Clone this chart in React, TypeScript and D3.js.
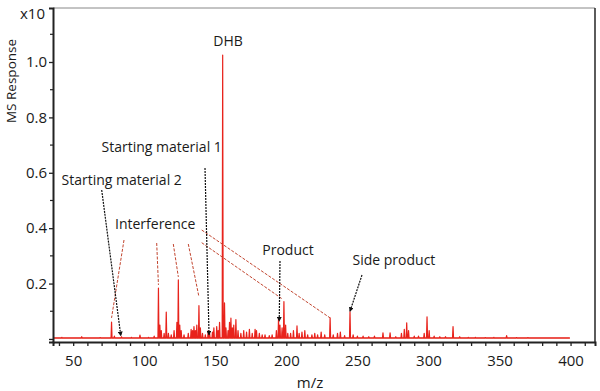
import React, { useRef, useEffect } from "react";
import * as d3 from "d3";

// Peak list (m/z, response x10)
const peakMz = [
  42, 56, 63, 69, 77, 79, 84, 91, 97, 103, 107,
  110, 111, 112, 114, 115.5, 117, 119, 121, 123, 124, 125, 126, 128,
  131, 133, 134, 135, 136, 137, 138.5, 139.5, 141, 143, 145, 146, 148, 149,
  151, 152, 153, 155.2, 156.5, 157.5, 159, 160, 161, 162, 163, 164.5, 166, 168,
  170, 172, 174, 176, 178, 179, 181, 183, 185, 188, 190, 193, 194.5, 195.5, 197,
  198.3, 199.5, 201, 203, 205, 207.5, 209, 211, 213, 215, 218, 220, 222, 224.5,
  227, 230.8, 233, 236, 238, 241, 244.8, 247, 250, 254, 258, 262, 268, 273, 277,
  281, 283, 284.7, 286, 290, 293, 297, 299, 300.5, 304, 308, 312, 317.3, 322,
  328, 333, 340, 346, 355, 362, 370, 378, 386, 394,
];
const peakValue = [
  0.006, 0.008, 0.004, 0.005, 0.061, 0.01, 0.008, 0.006, 0.014, 0.006, 0.01,
  0.184, 0.05, 0.03, 0.02, 0.097, 0.02, 0.015, 0.03, 0.06, 0.213, 0.05, 0.03, 0.015,
  0.02, 0.035, 0.03, 0.045, 0.03, 0.05, 0.12, 0.04, 0.02, 0.015, 0.03, 0.02, 0.025, 0.04,
  0.045, 0.03, 0.06, 1.025, 0.13, 0.04, 0.03, 0.06, 0.075, 0.04, 0.05, 0.07, 0.03, 0.02,
  0.03, 0.025, 0.035, 0.02, 0.035, 0.03, 0.02, 0.015, 0.015, 0.012, 0.015, 0.03, 0.075, 0.05, 0.04,
  0.135, 0.05, 0.02, 0.02, 0.03, 0.047, 0.02, 0.025, 0.03, 0.015, 0.015, 0.02, 0.015, 0.025,
  0.015, 0.076, 0.015, 0.02, 0.025, 0.012, 0.098, 0.015, 0.01, 0.01, 0.008, 0.01, 0.022, 0.022, 0.008,
  0.02, 0.035, 0.058, 0.03, 0.01, 0.01, 0.02, 0.08, 0.03, 0.01, 0.008, 0.008, 0.045, 0.008,
  0.006, 0.006, 0.005, 0.006, 0.012, 0.005, 0.005, 0.004, 0.004, 0.004,
];
const scanRange = [36, 399.5];
const baselineLevel = 0.004;

const xTickValues = d3.range(40, 411, 10);
const xLabelValues = [50, 100, 150, 200, 250, 300, 350, 400];
const yMajorTicks = [0, 0.2, 0.4, 0.6, 0.8, 1.0];
const yMinorTicks = [0.1, 0.3, 0.5, 0.7, 0.9, 1.1];

// Annotations: label text + where the pointer lands (m/z, response)
const blackLabels = ["Starting material 2", "Starting material 1", "Product", "Side product"];
const blackTargetMz = [83.5, 145.6, 195, 244.8];
const blackTargetValue = [0.012, 0.015, 0.065, 0.1];
const interferenceTargetMz = [77, 110, 124, 138.5, 230.8, 197];
const interferenceTargetValue = [0.076, 0.195, 0.224, 0.152, 0.076, 0.145];

const W = 600;
const H = 391;

export default function App() {
  const svgRef = useRef<SVGSVGElement>(null);

  useEffect(() => {
    if (!svgRef.current) return;
    const svg = d3.select(svgRef.current);
    svg.selectAll("*").remove();

    const left = 53, right = 595, top = 8, bottom = 342;
    const font = "'Open Sans', 'Noto Sans', sans-serif";

    const x = d3.scaleLinear().domain([35.8, 417.2]).range([left, right]);
    const y = d3.scaleLinear().domain([-0.011, 1.195]).range([bottom, top]);

    // frame
    svg.append("line")
      .attr("x1", left).attr("x2", right).attr("y1", top).attr("y2", top)
      .attr("stroke", "#888").attr("stroke-width", 1);
    svg.append("line")
      .attr("x1", right).attr("x2", right).attr("y1", top).attr("y2", bottom)
      .attr("stroke", "#333").attr("stroke-width", 1.6);

    // spectrum path
    const pts: [number, number][] = [[scanRange[0], baselineLevel]];
    peakMz.forEach((m, i) => {
      pts.push([m - 0.35, baselineLevel]);
      pts.push([m, peakValue[i]]);
      pts.push([m + 0.35, baselineLevel]);
    });
    pts.push([scanRange[1], baselineLevel]);

    const line = d3.line<[number, number]>()
      .x(d => x(d[0]))
      .y(d => y(d[1]));

    const area = d3.area<[number, number]>()
      .x(d => x(d[0]))
      .y0(y(0))
      .y1(d => y(d[1]));

    svg.append("path").datum(pts)
      .attr("fill", "#f08a80")
      .attr("d", area);
    svg.append("path").datum(pts)
      .attr("fill", "none")
      .attr("stroke", "#e8231c")
      .attr("stroke-width", 1.2)
      .attr("stroke-linejoin", "round")
      .attr("d", line);

    // x axis
    const gx = svg.append("g")
      .attr("transform", `translate(0,${bottom})`)
      .call(
        d3.axisBottom(x)
          .tickValues(xTickValues)
          .tickSize(4)
          .tickPadding(9)
          .tickFormat(d => (xLabelValues.includes(+d) ? String(d) : ""))
      );
    gx.select(".domain").attr("stroke", "#222").attr("stroke-width", 2);
    gx.selectAll(".tick line").attr("stroke", "#222").attr("stroke-width", 1.3);
    gx.selectAll("text").attr("font-family", font).attr("font-size", 15).attr("fill", "#1a1a1a");

    // y axis
    const gy = svg.append("g")
      .attr("transform", `translate(${left},0)`)
      .call(
        d3.axisLeft(y)
          .tickValues(yMajorTicks)
          .tickSize(4)
          .tickPadding(2)
          .tickFormat(d => (+d === 0 ? "" : d3.format(".1f")(+d)))
      );
    gy.select(".domain").attr("stroke", "#222").attr("stroke-width", 2);
    gy.selectAll(".tick line").attr("stroke", "#222").attr("stroke-width", 1.3);
    gy.selectAll("text").attr("font-family", font).attr("font-size", 15).attr("fill", "#1a1a1a");

    svg.append("g")
      .selectAll("line")
      .data(yMinorTicks)
      .join("line")
      .attr("x1", left - 3).attr("x2", left)
      .attr("y1", d => y(d)).attr("y2", d => y(d))
      .attr("stroke", "#222").attr("stroke-width", 1.2);

    svg.append("text")
      .attr("x", 45).attr("y", 19)
      .attr("text-anchor", "end")
      .attr("font-family", font).attr("font-size", 15).attr("fill", "#1a1a1a")
      .text("x10");

    // axis titles
    svg.append("text")
      .attr("transform", "rotate(-90)")
      .attr("x", -81).attr("y", 16)
      .attr("text-anchor", "middle")
      .attr("font-family", font).attr("font-size", 13.5).attr("fill", "#1a1a1a")
      .text("MS Response");
    svg.append("text")
      .attr("x", 310).attr("y", 388)
      .attr("text-anchor", "middle")
      .attr("font-family", font).attr("font-size", 15).attr("fill", "#1a1a1a")
      .text("m/z");

    // arrow marker
    svg.append("defs").append("marker")
      .attr("id", "arr")
      .attr("viewBox", "0 0 6 6")
      .attr("refX", 5).attr("refY", 3)
      .attr("markerWidth", 4).attr("markerHeight", 4)
      .attr("orient", "auto")
      .append("path")
      .attr("d", "M0,0 L6,3 L0,6 Z")
      .attr("fill", "#111");

    // interference pointers
    const interferenceStart: [number, number][] = [
      [124, 240], [156.7, 243], [173.3, 244], [188.3, 244], [201.7, 230], [201.7, 242.7],
    ];
    svg.append("g")
      .selectAll("line")
      .data(interferenceTargetMz)
      .join("line")
      .attr("x1", (_, i) => interferenceStart[i][0])
      .attr("y1", (_, i) => interferenceStart[i][1])
      .attr("x2", d => x(d))
      .attr("y2", (_, i) => y(interferenceTargetValue[i]))
      .attr("stroke", "#c2452f")
      .attr("stroke-width", 1)
      .attr("stroke-dasharray", "3,1.5");

    // black pointers
    const blackStart: [number, number][] = [[101.7, 190], [205, 168], [280, 261], [362, 275]];
    svg.append("g")
      .selectAll("line")
      .data(blackTargetMz)
      .join("line")
      .attr("x1", (_, i) => blackStart[i][0])
      .attr("y1", (_, i) => blackStart[i][1])
      .attr("x2", d => x(d))
      .attr("y2", (_, i) => y(blackTargetValue[i]))
      .attr("stroke", "#111")
      .attr("stroke-width", 1.2)
      .attr("stroke-dasharray", "2,1")
      .attr("marker-end", "url(#arr)");

    // labels
    const labelPos: [number, number, string][] = [
      [61.5, 184.5, "start"],
      [101.5, 151.5, "start"],
      [288, 255, "middle"],
      [352.5, 265, "start"],
    ];
    const labels = [...blackLabels, "Interference", "DHB"];
    const allPos = [...labelPos, [115, 229, "start"], [228, 46, "middle"]] as [number, number, string][];
    svg.append("g")
      .selectAll("text")
      .data(labels)
      .join("text")
      .attr("x", (_, i) => allPos[i][0])
      .attr("y", (_, i) => allPos[i][1])
      .attr("text-anchor", (_, i) => allPos[i][2])
      .attr("font-family", font)
      .attr("font-size", 14)
      .attr("fill", "#1a1a1a")
      .text(d => d);
  }, []);

  return (
    <div style={{ position: "absolute", left: 0, top: 0, background: "#fff" }}>
      <svg ref={svgRef} width={W} height={H} style={{ display: "block" }} />
    </div>
  );
}
